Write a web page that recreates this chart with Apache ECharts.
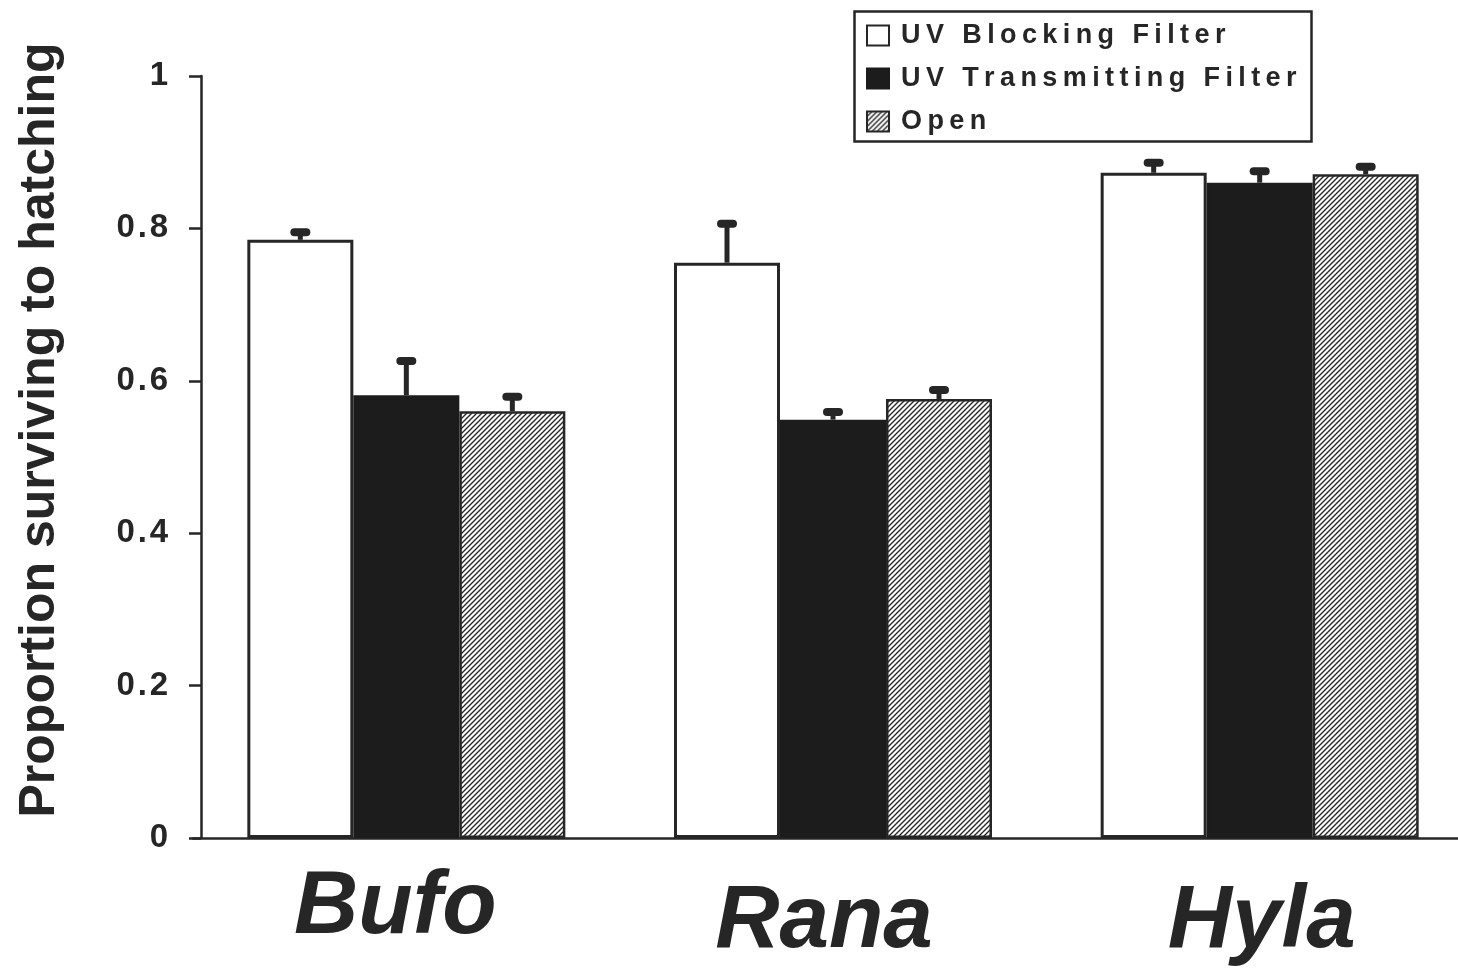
<!DOCTYPE html>
<html>
<head>
<meta charset="utf-8">
<script src="https://cdn.jsdelivr.net/npm/echarts@6/dist/echarts.min.js"></script>
<style>
html,body{margin:0;padding:0;background:#fff;}
#chart{width:1458px;height:969px;}
</style>
</head>
<body>
<div id="chart"></div>
<script>
// ---- data ----
const categories = ['Bufo', 'Rana', 'Hyla'];
const seriesNames = ['UV Blocking Filter', 'UV Transmitting Filter', 'Open'];
const uvBlocking = [0.785, 0.755, 0.873];
const uvBlockingErr = [0.010, 0.051, 0.013];
const uvTransmitting = [0.581, 0.549, 0.860];
const uvTransmittingErr = [0.045, 0.010, 0.015];
const openValues = [0.560, 0.576, 0.871];
const openErr = [0.019, 0.012, 0.010];
const yTicks = [0, 0.2, 0.4, 0.6, 0.8, 1];

// ---- style ----
const INK = '#262626';
const FONT = '"Liberation Sans", Arial, sans-serif';
const BAR_W = 106;

function makeHatch() {
  const s = 5;
  const c = document.createElement('canvas');
  c.width = s; c.height = s;
  const g = c.getContext('2d');
  g.fillStyle = '#ffffff';
  g.fillRect(0, 0, s, s);
  g.strokeStyle = '#2a2a2a';
  g.lineWidth = 1.4;
  g.beginPath();
  g.moveTo(-1, s + 1); g.lineTo(s + 1, -1);
  g.moveTo(-1, 1); g.lineTo(1, -1);
  g.moveTo(s - 1, s + 1); g.lineTo(s + 1, s - 1);
  g.stroke();
  return c;
}
const hatch = { image: makeHatch(), repeat: 'repeat' };

const spaced = (s, sep) => s.split('').join(sep);

const barStyles = [
  { color: '#ffffff', borderColor: INK, borderWidth: 3 },
  { color: '#1c1c1c', borderColor: '#1c1c1c', borderWidth: 2 },
  { color: hatch, borderColor: INK, borderWidth: 2.5 }
];
const values = [uvBlocking, uvTransmitting, openValues];
const errs = [uvBlockingErr, uvTransmittingErr, openErr];

const series = [];
seriesNames.forEach((name, i) => {
  series.push({
    name: name,
    type: 'bar',
    barWidth: BAR_W,
    barGap: '0%',
    itemStyle: barStyles[i],
    data: values[i]
  });
});
seriesNames.forEach((name, i) => {
  series.push({
    type: 'custom',
    name: name + ' err',
    z: 5,
    encode: { x: 0, y: 1 },
    data: categories.map((c, k) => [k, values[i][k], errs[i][k]]),
    renderItem: function (params, api) {
      const base = api.coord([api.value(0), api.value(1)]);
      const top = api.coord([api.value(0), api.value(1) + api.value(2)]);
      const x = base[0] + (i - 1) * BAR_W;
      return {
        type: 'group',
        children: [
          { type: 'line', shape: { x1: x, y1: base[1], x2: x, y2: top[1] },
            style: { stroke: INK, lineWidth: 5 } },
          { type: 'rect', shape: { x: x - 10, y: top[1] - 4, width: 20, height: 8, r: 4 },
            style: { fill: INK } }
        ]
      };
    }
  });
});

const catFont = { fontFamily: FONT, fontSize: 89, fontStyle: 'italic', fontWeight: 'bold', color: INK };

const chart = echarts.init(document.getElementById('chart'), null, { renderer: 'canvas' });
chart.setOption({
  backgroundColor: '#ffffff',
  animation: false,
  textStyle: { fontFamily: FONT, color: INK },
  grid: { left: 193, width: 1280, top: 76, bottom: 131, outerBoundsMode: 'none', containLabel: false },
  legend: {
    data: seriesNames,
    orient: 'vertical',
    left: 861,
    top: 15,
    itemWidth: 22,
    itemHeight: 20,
    itemGap: 12,
    icon: 'rect',
    selectedMode: false,
    formatter: n => spaced(n, '\u2009'),
    textStyle: { fontFamily: FONT, fontSize: 27, fontWeight: 'bold', color: INK, lineHeight: 31, padding: [0, 0, 0, 7] }
  },
  graphic: [{
    type: 'rect',
    left: 852, top: 9,
    shape: { width: 457, height: 130 },
    style: { fill: 'none', stroke: INK, lineWidth: 2.5 },
    z: 10
  }],
  xAxis: {
    type: 'category',
    data: categories,
    axisTick: { show: false },
    axisLine: { lineStyle: { color: INK, width: 2.5 } },
    axisLabel: {
      margin: 26,
      formatter: (v, idx) => '{c' + idx + '|' + v + '}',
      rich: {
        c0: Object.assign({ padding: [0, 22, 0, 0] }, catFont),
        c1: Object.assign({ padding: [14, 18, 0, 0] }, catFont),
        c2: Object.assign({ padding: [14, 0, 0, 4] }, catFont)
      }
    }
  },
  yAxis: {
    type: 'value',
    offset: -8,
    min: yTicks[0],
    max: yTicks[yTicks.length - 1],
    interval: yTicks[1] - yTicks[0],
    name: 'Proportion surviving to hatching',
    nameLocation: 'middle',
    nameGap: 136,
    nameTextStyle: { fontFamily: FONT, fontSize: 50, fontWeight: 'bold', color: INK, padding: [0, 0, 0, 54] },
    axisLine: { show: true, lineStyle: { color: INK, width: 2.5 } },
    axisTick: { show: true, length: 12, lineStyle: { color: INK, width: 2.5 } },
    splitLine: { show: false },
    axisLabel: {
      margin: 33,
      fontFamily: FONT, fontSize: 33, fontWeight: 'bold', color: INK,
      formatter: v => spaced(String(v), '\u200A')
    }
  },
  series: series
});
</script>
</body>
</html>
